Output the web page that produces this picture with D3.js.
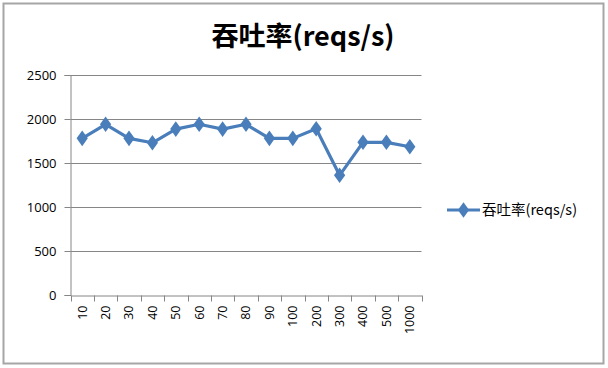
<!DOCTYPE html>
<html><head><meta charset="utf-8">
<script src="https://cdn.jsdelivr.net/npm/d3@7"></script>
<style>body{margin:0;background:#fff}svg{display:block}</style>
</head><body>
<svg id="c" width="608" height="368"></svg>
<script>
const categories = ["10","20","30","40","50","60","70","80","90","100","200","300","400","500","1000"];
const values = [1780,1940,1780,1730,1885,1940,1885,1940,1780,1780,1890,1360,1735,1735,1685];
const yTicks = [0,500,1000,1500,2000,2500];
const seriesName = "吞吐率(reqs/s)";
const titleText = "吞吐率(reqs/s)";

const svg = d3.select("#c");
const font = "'Open Sans','Noto Sans CJK SC',sans-serif";
const blue = "#4a7ebb";
const gray = "#868686";

svg.append("rect").attr("x",3.5).attr("y",3.5).attr("width",600).attr("height",360)
  .attr("fill","#fff").attr("stroke","#a6a6a6").attr("stroke-width",2);

svg.append("text").attr("x",303).attr("y",46).attr("text-anchor","middle")
  .attr("font-family","'Noto Sans CJK SC',sans-serif").attr("font-weight",600).attr("font-size",27)
  .attr("fill","#000").text(titleText);

const L=70.5, R=421.5, T=75, B=295;
const x = d3.scaleBand().domain(categories).range([L,R]);
const y = d3.scaleLinear().domain([0,2500]).range([B,T]);

const g = svg.append("g");
g.selectAll("line.grid").data(yTicks.filter(d=>d>0)).join("line")
  .attr("x1",L).attr("x2",R).attr("y1",d=>Math.round(y(d))+0.5).attr("y2",d=>Math.round(y(d))+0.5)
  .attr("stroke",gray).attr("stroke-width",1);

const ya = svg.append("g").attr("transform",`translate(${L},0)`)
  .call(d3.axisLeft(y).tickValues(yTicks).tickFormat(d3.format("d")).tickSize(6).tickPadding(8));
ya.select(".domain").attr("stroke",gray);
ya.selectAll(".tick line").attr("stroke",gray);
ya.selectAll("text").attr("font-family",font).attr("font-size",13).attr("fill","#000");

const xa = svg.append("g").attr("transform",`translate(0,${Math.round(B)+0.5})`)
  .call(d3.axisBottom(x).tickSizeInner(0).tickSizeOuter(0));
xa.select(".domain").attr("stroke",gray);
xa.selectAll(".tick line").remove();
const bounds = categories.map(c=>x(c)).concat([R]);
xa.selectAll("line.bt").data(bounds).join("line").attr("class","bt")
  .attr("x1",d=>Math.round(d)+0.5).attr("x2",d=>Math.round(d)+0.5).attr("y1",0).attr("y2",6)
  .attr("stroke",gray);
xa.selectAll(".tick text").attr("font-family",font).attr("font-size",12.5).attr("fill","#000")
  .attr("transform","rotate(-90)").attr("text-anchor","end").attr("y",0)
  .attr("x",-10).attr("dy","0.35em");

const cx = d=>x(d)+x.bandwidth()/2;
const line = d3.line().x((d,i)=>cx(categories[i])).y(d=>y(d));
svg.append("path").datum(values).attr("d",line).attr("fill","none")
  .attr("stroke",blue).attr("stroke-width",3.2).attr("stroke-linejoin","round");
const diamond = d3.symbol().type(d3.symbolDiamond).size(70);
svg.selectAll("path.m").data(values).join("path").attr("class","m")
  .attr("transform",(d,i)=>`translate(${cx(categories[i])},${y(d)}) scale(1.25,1)`)
  .attr("d",diamond).attr("fill",blue);

const ly = 210;
svg.append("line").attr("x1",447).attr("x2",480).attr("y1",ly).attr("y2",ly)
  .attr("stroke",blue).attr("stroke-width",3);
svg.append("path").attr("transform",`translate(463.5,${ly}) scale(1.25,1)`).attr("d",diamond).attr("fill",blue);
svg.append("text").attr("x",482).attr("y",ly+5).attr("font-family","'Noto Sans CJK SC',sans-serif")
  .attr("font-size",14.5).attr("fill","#000").text(seriesName);
</script>
</body></html>
